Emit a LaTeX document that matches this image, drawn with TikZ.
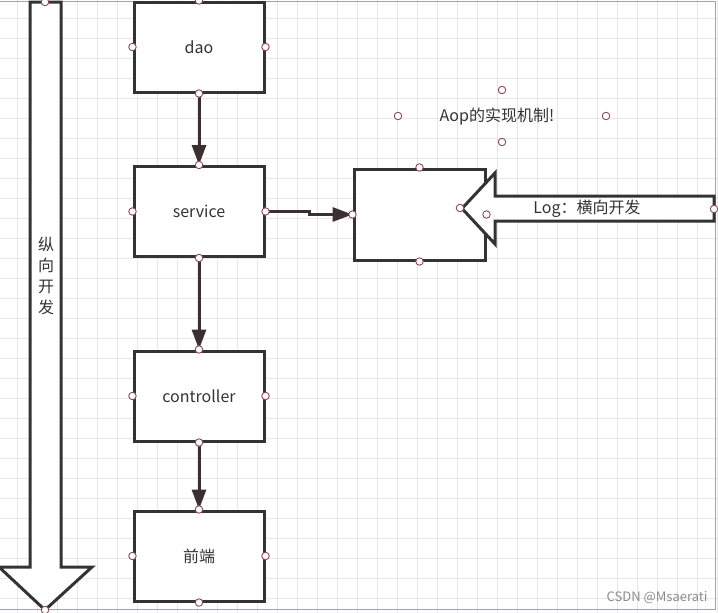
\documentclass[tikz,border=0pt]{standalone}
\usepackage{fontspec}
\setmainfont{Noto Sans CJK SC}
\usetikzlibrary{arrows.meta}
\definecolor{ln}{HTML}{333333}
\definecolor{cn}{HTML}{3A3032}
\definecolor{hd}{HTML}{8A4B55}
\definecolor{gridc}{HTML}{E9E6E9}
\definecolor{bordc}{HTML}{B89AA6}
\definecolor{txt}{HTML}{333333}
\definecolor{wm}{HTML}{8C8C8C}
\tikzset{
  box/.style={draw=ln, line width=3pt, minimum width=130pt, minimum height=90pt, inner sep=0pt, fill=white, text=txt, font=\fontsize{16}{19}\selectfont},
  conn/.style={draw=cn, line width=3pt, -{Triangle[length=20pt,width=14pt]}},
  bigarrow/.style={draw=ln, line width=3pt, fill=white, line join=miter},
  hdl/.style={circle, draw=hd, fill=white, line width=0.9pt, minimum size=7.5pt, inner sep=0pt},
  lbl/.style={text=txt, font=\fontsize{16}{19}\selectfont, inner sep=0pt}
}
\begin{document}
\begin{tikzpicture}[x=1pt,y=-1pt]
\useasboundingbox (0,0) rectangle (718,613);
\fill[white] (0,0) rectangle (718,613);
\foreach \x in {17,37,...,717} \draw[gridc, line width=0.9pt] (\x,0) -- (\x,613);
\foreach \y in {18,38,...,610} \draw[gridc, line width=0.9pt] (0,\y) -- (718,\y);
\draw[bordc, line width=0.8pt] (0,1) -- (715,1) -- (715,609) -- (0,609);

% left vertical arrow
\draw[bigarrow] (30,2) -- (61,2) -- (61,567) -- (92,567) -- (45,610) -- (-1,567) -- (30,567) -- cycle;
\node[lbl, align=center, font=\fontsize{16}{21}\selectfont] (vtext) at (46,276) {纵\\向\\开\\发};

% boxes
\node[box] (dao) at (199,47) {dao};
\node[box] (service) at (199,211.5) {service};
\node[box] (controller) at (199,396) {controller};
\node[box] (fe) at (199,556) {前端};
\node[box, minimum width=131pt, minimum height=91pt] (aopbox) at (419.5,214.5) {};

% connectors
\draw[conn] (dao.south) -- (service.north);
\draw[conn] (service.south) -- (controller.north);
\draw[conn] (controller.south) -- (fe.north);
\draw[conn] (service.east) -- ++(44,0) -- ++(0,3) -- (aopbox.west);

% horizontal arrow
\draw[bigarrow] (714,196) -- (495,196) -- (495,173) -- (462,208.5) -- (495,244) -- (495,221) -- (714,221) -- cycle;
\node[lbl] (log) at (587,209) {Log：横向开发};

% Aop text
\node[lbl] (aop) at (497,117) {Aop的实现机制!};

% handles
\foreach \n in {dao,service,controller,fe,aopbox}
  \foreach \a in {north,south,east,west}
    \node[hdl] at (\n.\a) {};
\node[hdl] at (45,2) {};
\node[hdl] at (45,610) {};
\node[hdl] at (460,208) {};
\node[hdl] at (714,209) {};
\node[hdl] at (502,90) {};
\node[hdl] at (398,116) {};
\node[hdl] at (606,116) {};
\node[hdl] at (502,142) {};

% watermark
\node[text=wm, font=\fontsize{13}{15}\selectfont, inner sep=0pt] (wmk) at (657,598) {CSDN @Msaerati};
\end{tikzpicture}
\end{document}
